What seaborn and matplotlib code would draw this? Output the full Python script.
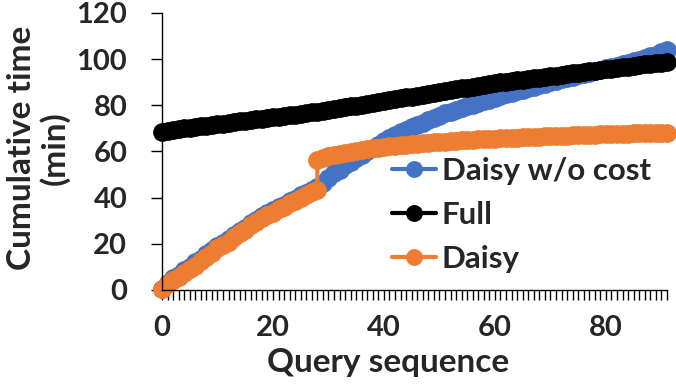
import numpy as np
import pandas as pd
import matplotlib
matplotlib.use("Agg")
import matplotlib.pyplot as plt
from matplotlib.ticker import MultipleLocator
import seaborn as sns

# Series (cumulative time in minutes)
series_names = ["Daisy w/o cost", "Full", "Daisy"]
series_colors = ["#4472C4", "#000000", "#ED7D31"]

query_x = list(range(92))

daisy_nocost = [
    0.5, 3, 5, 6.5, 8.5, 10, 12, 13.5, 15.5, 17.5,
    19, 20.5, 22, 24, 25.5, 27, 29, 30.5, 32, 33.5,
    34.5, 36, 37, 38.5, 39.5, 41, 42, 43.5, 44.5, 46.5,
    48.5, 50.5, 52, 54, 55.5, 57, 58.5, 60, 61.5, 63,
    64.5, 66, 67, 68.5, 69.5, 70.5, 71.5, 72.5, 73.5, 74.5,
    75.5, 76.5, 77.3, 78, 78.8, 79.5, 80.3, 81, 81.8, 82.5,
    83.2, 84, 84.7, 85.4, 86, 86.7, 87.4, 88, 88.7, 89.3,
    90, 90.6, 91.2, 91.8, 92.4, 93, 93.6, 94.2, 94.8, 95.4,
    96, 96.6, 97.2, 97.8, 98.4, 99, 99.7, 100.4, 101.2, 102,
    102.9, 104,
]

full = [
    68.5, 69, 69.3, 69.6, 70, 70.3, 70.6, 70.9, 71.2, 71.5,
    71.8, 72.1, 72.4, 72.7, 73, 73.3, 73.6, 73.9, 74.2, 74.5,
    74.8, 75, 75.3, 75.6, 75.9, 76.2, 76.5, 76.9, 77.2, 77.6,
    78, 78.3, 78.7, 79.1, 79.5, 79.8, 80.2, 80.6, 81, 81.4,
    81.8, 82.2, 82.6, 83, 83.4, 83.8, 84.2, 84.6, 85, 85.3,
    85.7, 86.1, 86.5, 86.9, 87.3, 87.7, 88, 88.4, 88.8, 89.2,
    89.6, 89.9, 90.2, 90.5, 90.8, 91.1, 91.4, 91.7, 92, 92.3,
    92.6, 92.9, 93.2, 93.5, 93.8, 94.1, 94.4, 94.7, 95, 95.3,
    95.6, 95.9, 96.2, 96.5, 96.8, 97.1, 97.4, 97.7, 98, 98.2,
    98.4, 98.7,
]

# Daisy has a jump at query 28, so query 28 appears twice
daisy_x = list(range(29)) + list(range(28, 92))
daisy = [
    0.5, 2.5, 4.5, 5.5, 7.5, 9, 10.5, 12.5, 14.5, 16,
    18, 19.5, 21, 23, 24.5, 26, 28, 29.5, 31, 32.5,
    33.5, 35, 36, 37.5, 38.5, 40, 41, 42.5, 43.5,
    56.5, 57.3, 57.9, 58.4, 58.9, 59.4, 59.8, 60.2, 60.6, 61,
    61.3, 61.6, 61.9, 62.2, 62.5, 62.8, 63, 63.2, 63.4, 63.6,
    63.8, 64, 64.2, 64.3, 64.5, 64.6, 64.8, 64.9, 65.1, 65.2,
    65.3, 65.5, 65.6, 65.7, 65.8, 65.9, 66, 66.1, 66.2, 66.3,
    66.4, 66.5, 66.6, 66.7, 66.8, 66.9, 67, 67.1, 67.1, 67.2,
    67.3, 67.4, 67.4, 67.5, 67.6, 67.6, 67.7, 67.8, 67.8, 67.9,
    68, 68, 68.1, 68.2,
]

y_ticks = [0, 20, 40, 60, 80, 100, 120]
x_ticks = [0, 20, 40, 60, 80]

df = pd.concat([
    pd.DataFrame({"query": query_x, "time": daisy_nocost, "series": series_names[0]}),
    pd.DataFrame({"query": query_x, "time": full, "series": series_names[1]}),
    pd.DataFrame({"query": daisy_x, "time": daisy, "series": series_names[2]}),
], ignore_index=True)

sns.set_style("ticks")
plt.rcParams["font.family"] = ["Lato", "DejaVu Sans"]
plt.rcParams["font.weight"] = "bold"

fig = plt.figure(figsize=(6.76, 3.84), dpi=100)
ax = fig.add_axes([0.2396, 0.2448, 0.7470, 0.7214])

sns.lineplot(data=df, x="query", y="time", hue="series",
             hue_order=series_names, palette=series_colors,
             estimator=None, sort=False, marker="o", markersize=13.5,
             markeredgewidth=0, linewidth=3, ax=ax)

for line in ax.lines:
    line.set_clip_on(False)

ax.set_xlim(0, 91)
ax.set_ylim(0, 120)
ax.set_yticks(y_ticks)
ax.set_xticks(x_ticks)
ax.xaxis.set_minor_locator(MultipleLocator(1))
ax.tick_params(axis="y", which="major", length=8, width=1, color="black",
               pad=17, labelsize=21)
ax.tick_params(axis="x", which="both", length=7, width=1, color="black",
               pad=11, labelsize=21)
for lbl in ax.get_xticklabels() + ax.get_yticklabels():
    lbl.set_fontweight("bold")

for side in ["top", "right"]:
    ax.spines[side].set_visible(False)
for side in ["left", "bottom"]:
    ax.spines[side].set_color("black")
    ax.spines[side].set_linewidth(1)

ax.set_xlabel("Query sequence", fontsize=24, fontweight="bold")
ax.xaxis.label.set_va("center")
ax.xaxis.set_label_coords(0.4475, -0.2635)
ax.set_ylabel("Cumulative time\n(min)", fontsize=24, fontweight="bold",
              linespacing=1.1)
ax.yaxis.label.set_va("center")
ax.yaxis.set_label_coords(-0.245, 0.512)

leg = ax.legend(loc="center left", bbox_to_anchor=(392 / 676, 1 - 215 / 384),
                bbox_transform=fig.transFigure, frameon=False, fontsize=22.5,
                handlelength=1.4, handletextpad=0.2, labelspacing=0.5,
                borderpad=0, borderaxespad=0, markerscale=0.9)
for t in leg.get_texts():
    t.set_fontweight("bold")

fig.savefig("out.png", dpi=100)
